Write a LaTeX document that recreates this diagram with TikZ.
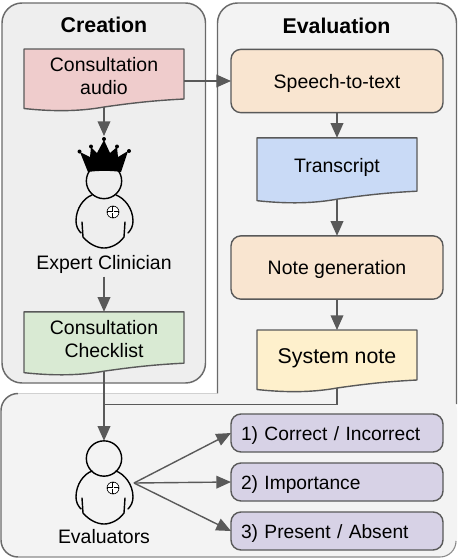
\documentclass[tikz,border=0pt]{standalone}
\usepackage{fontspec}
\setmainfont{Liberation Sans}
\usetikzlibrary{arrows.meta,calc}
\pgfdeclarelayer{panel}
\pgfdeclarelayer{wave}
\pgfsetlayers{panel,wave,main}
\definecolor{edge}{HTML}{595959}
\definecolor{panelA}{HTML}{EEEEEE}
\definecolor{panelB}{HTML}{F3F3F3}
\definecolor{audioC}{HTML}{EFCCCC}
\definecolor{procC}{HTML}{F9E5D0}
\definecolor{transC}{HTML}{C9DAF6}
\definecolor{noteC}{HTML}{FEF0CC}
\definecolor{checkC}{HTML}{D9EAD3}
\definecolor{barC}{HTML}{D7D2E6}
\newcommand{\labelfont}{\fontsize{14.6pt}{17.3pt}\selectfont}
\newcommand{\wavedoc}[2]{%
  \begin{pgfonlayer}{wave}
    \draw[docline,fill=#2] (#1.north west) -- (#1.north east) -- ($(#1.south east)+(0,-8)$)
      .. controls +(-30,1.5) and +(28,-4) .. (#1.south)
      .. controls +(-22,4) and +(32,3.5) .. ($(#1.south west)+(0,1.5)$) -- cycle;
  \end{pgfonlayer}}
\tikzset{
  x=0.75pt,y=-0.75pt,
  every node/.style={font=\labelfont,text=black,inner sep=0pt,outer sep=0pt},
  docline/.style={draw=edge,line width=1.05pt,line join=round},
  docbox/.style={minimum width=120pt,align=center,text depth=5pt},
  procbox/.style={draw=edge,line width=1.05pt,rounded corners=7.5pt,minimum width=159pt,align=center,text height=13.5pt,text depth=3pt},
  barbox/.style={procbox,fill=barC,minimum height=28.5pt,text width=144pt,align=left,font=\fontsize{14.4pt}{17pt}\selectfont,text height=14.5pt,text depth=3pt},
  conn/.style={draw=edge,line width=1.05pt},
  flow/.style={conn,-{Triangle[length=11pt,width=9.5pt]}},
  panelline/.style={draw=edge!90,line width=1.1pt},
  titletext/.style={font=\fontsize{16pt}{20pt}\selectfont\bfseries},
  headc/.style={circle,draw=black,line width=1.05pt,minimum size=26.5pt},
  pics/person/.style={code={
    \draw[black,line width=1.05pt,line cap=round,line join=round]
      (-23,48) .. controls (-26,45) and (-28,41) .. (-28,36)
      .. controls (-28,23) and (-20,13) .. (-12,10)
      (12,10) .. controls (20,13) and (29,23) .. (29,36)
      .. controls (29,41) and (27,45) .. (24,48)
      (-22,37) -- (-21,52) .. controls (-15,59) and (-7,63) .. (0,63)
      .. controls (7,63) and (15,59) .. (20,52) -- (21,37);
    \draw[black,line width=0.5pt,fill=white] (9,27) circle[radius=6];
    \draw[black,line width=1pt] (3.4,27) -- (14.6,27) (9,21.4) -- (9,32.6);
    \draw[white,line width=0.35pt] (4,27) -- (14,27) (9,22) -- (9,32);
  }}
}
\begin{document}
\begin{tikzpicture}
\useasboundingbox (0,0) rectangle (458,558);
\clip (0,0) rectangle (458,558);
\begin{pgfonlayer}{panel}
  \fill[white] (0,0) rectangle (458,558);
  % evaluation panel
  \fill[panelB,rounded corners=15pt] (217.5,3) -- (217.5,420) -- (456.5,420) -- (456.5,3) -- cycle;
  \draw[panelline,rounded corners=15pt] (217.5,393.5) -- (217.5,3) -- (456.5,3) -- (456.5,404);
  % bottom panel
  \fill[panelB,rounded corners=13pt] (1,393.5) -- (1,557) -- (457,557) -- (457,393.5) -- cycle;
  \draw[draw=black!18,line width=0.6pt] (18,393.5) -- (217,393.5);
  \draw[panelline] (18,393.5) arc[start angle=270,end angle=180,radius=17] -- (1,540)
      arc[start angle=180,end angle=90,radius=17];
  \draw[draw=edge!70,line width=0.8pt] (18,557) -- (440,557) arc[start angle=90,end angle=0,radius=16];
  % creation panel
  \draw[panelline,fill=panelA,rounded corners=15pt] (2,3) rectangle (205.5,383);
\end{pgfonlayer}

\node[titletext] (creationTitle) at (104,24.5) {Creation};
\node[titletext] (evaluationTitle) at (336.5,26) {Evaluation};

% left column
\node[docbox,minimum height=43.5pt,text depth=3.5pt] (audio) at (104,78) {Consultation\\audio};
\wavedoc{audio}{audioC}
\node[docbox,minimum height=44.5pt,text depth=3.5pt] (checklist) at (104,341.5) {Consultation\\Checklist};
\wavedoc{checklist}{checkC}

% right column
\node[procbox,fill=procC,minimum height=47.5pt] (speech) at (337,81) {Speech-to-text};
\node[docbox,minimum height=46pt] (transcript) at (337,168.5) {Transcript};
\wavedoc{transcript}{transC}
\node[procbox,fill=procC,minimum height=47.5pt] (notegen) at (337,267.5) {Note generation};
\node[docbox,minimum height=43.5pt,font=\fontsize{16pt}{18pt}\selectfont,text depth=5pt] (sysnote) at (337,359) {System note};
\wavedoc{sysnote}{noteC}

% bars
\node[barbox] (q1) at (337,433) {1) Correct / Incorrect};
\node[barbox] (q2) at (337,482) {2) Importance};
\node[barbox] (q3) at (337,531) {3) Present / Absent};

% expert clinician
\node[headc] (experthead) at (104,181) {};
\pic at (104,185) {person};
\fill[black,line join=round] (88,172) -- (80,152) -- (90,157) -- (91,147) -- (97,153) -- (104,140)
   -- (110,153) -- (117,147) -- (118,157) -- (128,151) -- (121,172)
   .. controls (112,170.5) and (97,170.5) .. cycle;
\fill (79.5,151.5) circle[radius=2] (91,146.5) circle[radius=2] (104,139) circle[radius=2]
      (117,146.5) circle[radius=2] (129,151) circle[radius=2];
\coordinate (crowntip) at (104,136);
\node (expertlabel) at (104,264.5) {Expert Clinician};

% evaluators
\node[headc] (evalhead) at (104,458.5) {};
\pic at (104,461) {person};
\coordinate (evalbody) at (134,483);
\node (evallabel) at (104,537) {Evaluators};

% connectors
\draw[flow] (audio.south) -- (crowntip);
\draw[flow] (expertlabel.south) ++(0,3) -- (checklist.north);
\draw[flow] (audio.east |- speech.west) -- (speech.west);
\draw[flow] (speech.south) -- (transcript.north);
\draw[flow] (transcript.south) -- (notegen.north);
\draw[flow] (notegen.south) -- (sysnote.north);
\coordinate (merge) at (104,404.5);
\draw[conn] (sysnote.south) |- (merge);
\draw[flow] (checklist.south) -- (evalhead.north);
\draw[flow] (evalbody) -- (q1.west);
\draw[flow] (evalbody) -- (q2.west);
\draw[flow] (evalbody) -- (q3.west);
\end{tikzpicture}
\end{document}
